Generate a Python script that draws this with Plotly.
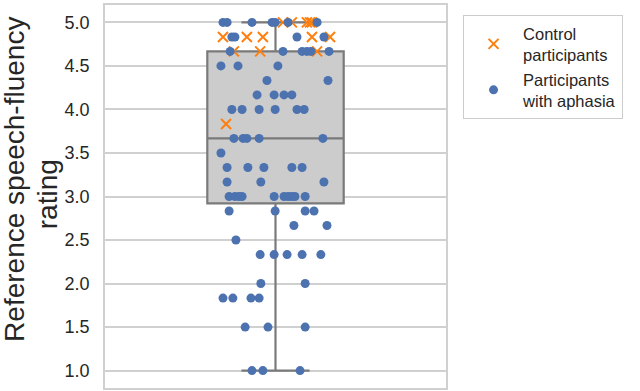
import plotly.graph_objects as go

# Participants with aphasia: ratings and horizontal jitter offsets (category units)
aphasia_rating = [
    5.0, 5.0, 5.0, 5.0, 5.0, 5.0, 5.0,
    4.833, 4.833, 4.833, 4.833,
    4.667, 4.667, 4.667, 4.667, 4.667, 4.667,
    4.5, 4.5, 4.5,
    4.333, 4.333,
    4.167, 4.167, 4.167, 4.167,
    4.0, 4.0, 4.0, 4.0, 4.0, 4.0,
    3.667, 3.667, 3.667, 3.667, 3.667,
    3.5,
    3.333, 3.333, 3.333, 3.333, 3.333,
    3.167, 3.167, 3.167,
    3.0, 3.0, 3.0, 3.0, 3.0, 3.0, 3.0, 3.0, 3.0, 3.0,
    2.833, 2.833, 2.833, 2.833,
    2.667, 2.667,
    2.5,
    2.333, 2.333, 2.333, 2.333, 2.333,
    2.0, 2.0,
    1.833, 1.833, 1.833, 1.833,
    1.5, 1.5, 1.5,
    1.0, 1.0, 1.0,
]
aphasia_jitter = [
    -0.154, -0.142, -0.069, -0.010, -0.001, 0.037, 0.122,
    -0.128, -0.119, 0.063, 0.142,
    -0.133, 0.022, 0.078, 0.092, 0.104, 0.157,
    -0.160, -0.110, 0.007,
    -0.025, 0.154,
    -0.054, -0.004, 0.025, 0.048,
    -0.128, -0.098, -0.048, -0.001, 0.063, 0.084,
    -0.122, -0.095, -0.084, -0.048, 0.139,
    -0.160,
    -0.142, -0.081, -0.034, 0.048, 0.078,
    -0.142, -0.043, 0.142,
    -0.136, -0.119, -0.107, -0.098, -0.004, 0.025, 0.037, 0.048, 0.057, 0.087,
    -0.136, -0.001, 0.087, 0.113,
    0.054, 0.151,
    -0.116,
    -0.045, -0.004, 0.034, 0.078, 0.133,
    -0.043, 0.087,
    -0.154, -0.125, -0.072, -0.048,
    -0.089, -0.022, 0.087,
    -0.069, -0.037, 0.072,
]

# Control participants
control_rating = [
    5.0, 5.0, 5.0, 5.0, 5.0,
    4.833, 4.833, 4.833, 4.833, 4.833,
    4.667, 4.667, 4.667,
    3.833,
]
control_jitter = [
    0.022, 0.048, 0.092, 0.101, 0.107,
    -0.154, -0.084, -0.037, 0.107, 0.160,
    -0.122, -0.045, 0.122,
    -0.145,
]

# Box summary statistics
box_q1 = 2.92
box_median = 3.667
box_q3 = 4.667
box_low = 1.0
box_high = 5.0

y_ticks = [1.0, 1.5, 2.0, 2.5, 3.0, 3.5, 4.0, 4.5, 5.0]
y_title_lines = ["Reference speech-fluency", "rating"]

FONT = "Liberation Sans, Arial, sans-serif"
GRID = "#d0d0d0"
NB = "\u00a0"

fig = go.Figure()

fig.add_trace(go.Box(
    x=[0], q1=[box_q1], median=[box_median], q3=[box_q3],
    lowerfence=[box_low], upperfence=[box_high],
    width=0.4, whiskerwidth=0.5,
    fillcolor="#cccccc", line=dict(color="#7a7a7a", width=2.2),
    boxpoints=False, showlegend=False, hoverinfo="skip",
))

fig.add_trace(go.Scatter(
    x=control_jitter, y=control_rating, mode="markers",
    name="Control<br>participants" + NB * 2,
    marker=dict(symbol="x-thin", size=10, color="#ff7f0e",
                line=dict(color="#ff7f0e", width=2)),
))

fig.add_trace(go.Scatter(
    x=aphasia_jitter, y=aphasia_rating, mode="markers",
    name="Participants<br>with aphasia",
    marker=dict(symbol="circle", size=9, color="#4C72B0",
                line=dict(width=0)),
))

# Two-line y-axis title (matplotlib-style placement)
fig.add_annotation(text=y_title_lines[0], textangle=-90,
                   xref="paper", yref="paper", x=-0.265, y=0.545,
                   xanchor="center", yanchor="middle", showarrow=False,
                   font=dict(size=28, color="#262626"))
fig.add_annotation(text=y_title_lines[1], textangle=-90,
                   xref="paper", yref="paper", x=-0.17, y=0.506,
                   xanchor="center", yanchor="middle", showarrow=False,
                   font=dict(size=28, color="#262626"))

fig.update_layout(
    width=640, height=391,
    margin=dict(l=105, r=194, t=3, b=3),
    paper_bgcolor="white", plot_bgcolor="white",
    font=dict(family=FONT, color="#262626"),
    legend=dict(
        x=1.05, y=0.974, xanchor="left", yanchor="top",
        bordercolor="#cccccc", borderwidth=1,
        font=dict(size=16.5, color="#262626"),
        itemwidth=49,
    ),
)

fig.update_xaxes(
    range=[-0.5, 0.5], showgrid=False, zeroline=False,
    showticklabels=False, ticks="",
    showline=True, mirror=True, linecolor=GRID, linewidth=1.5,
)
fig.update_yaxes(
    range=[0.8, 5.2], tickvals=y_ticks,
    ticktext=[f"{v:.1f}" for v in y_ticks],
    tickfont=dict(size=18, color="#262626"),
    ticks="outside", ticklen=10, tickcolor="rgba(0,0,0,0)",
    showgrid=True, gridcolor=GRID, gridwidth=1.5, zeroline=False,
    showline=True, mirror=True, linecolor=GRID, linewidth=1.5,
)

fig.write_html("out.html", config={"displayModeBar": False},
               post_script="document.body.style.margin='0';")
